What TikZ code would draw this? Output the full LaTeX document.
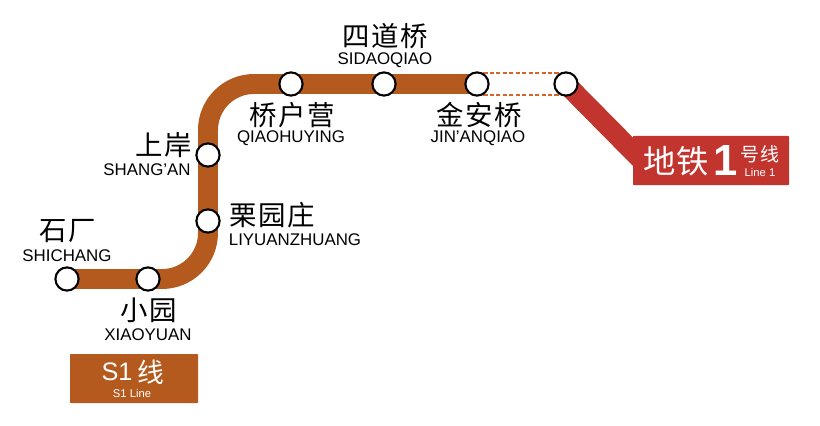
\documentclass[tikz,border=0pt]{standalone}
\usepackage{fontspec}
\setmainfont{Liberation Sans}
\newfontfamily\cjkfont[LetterSpace=5]{Noto Sans CJK SC}
\newfontfamily\cjkplain{Noto Sans CJK SC}
\usetikzlibrary{backgrounds}
\definecolor{sonebrown}{HTML}{B55A1F}
\definecolor{lineonered}{HTML}{C2352F}
\definecolor{linkorange}{HTML}{D9642B}
\tikzset{
    station/.style={circle, draw=black, line width=1.5pt, fill=white, minimum size=0.58cm, inner sep=0pt},
    cnname/.style={inner sep=0pt, font=\fontsize{19.5}{20}\cjkfont},
    enname/.style={inner sep=0pt, font=\fontsize{12}{12}\selectfont},
    linebox/.style={fill=#1, rounded corners=0.5pt, inner sep=0pt},
    track/.style={line width=14.2pt, color=#1},
    boxtext/.style={inner sep=0pt, text=white},
    transferlink/.style={linkorange, line width=1pt, dash pattern=on 3pt off 1.6pt},
}
\begin{document}
\begin{tikzpicture}[x=0.025cm, y=-0.025cm]
    \useasboundingbox (0,0) rectangle (820,426);
    % stations
    \node[station] (shichang) at (67,279) {};
    \node[station] (xiaoyuan) at (148,279) {};
    \node[station] (liyuanzhuang) at (208,221) {};
    \node[station] (shangan) at (208,155) {};
    \node[station] (qiaohuying) at (291,84) {};
    \node[station] (sidaoqiao) at (384,84) {};
    \node[station] (jinanqiao) at (477,84) {};
    \node[station] (transfer) at (566,84) {};
    \coordinate (cornerlow) at (208,279);
    \coordinate (cornerhigh) at (208,84);
    \coordinate (lineoneend) at (650,169);
    % names
    \node[cnname] (shichangcn) at (68,231) {石厂};
    \node[enname] (shichangen) at (67,256) {SHICHANG};
    \node[cnname] (xiaoyuancn) at (149,310) {小园};
    \node[enname] (xiaoyuanen) at (148,335) {XIAOYUAN};
    \node[cnname] (shangancn) at (164,145) {上岸};
    \node[enname] (shanganen) at (147,170) {SHANG'AN};
    \node[cnname] (liyuanzhuangcn) at (272,215) {栗园庄};
    \node[enname] (liyuanzhuangen) at (295,240) {LIYUANZHUANG};
    \node[cnname] (qiaohuyingcn) at (292,115) {桥户营};
    \node[enname] (qiaohuyingen) at (291,138) {QIAOHUYING};
    \node[cnname] (sidaoqiaocn) at (385,36) {四道桥};
    \node[enname] (sidaoqiaoen) at (385,60) {SIDAOQIAO};
    \node[cnname] (jinanqiaocn) at (479,115) {金安桥};
    \node[enname] (jinanqiaoen) at (478,138) {JIN'ANQIAO};
    % line boxes
    \node[linebox=sonebrown, minimum width=128*0.025cm, minimum height=49*0.025cm] (soneline) at (134,378.5) {};
    \node[boxtext, font=\fontsize{18}{18}\selectfont] (sonetext) at (117,372) {S1};
    \node[boxtext, font=\fontsize{19}{19}\cjkplain] (sonecn) at (151,372) {线};
    \node[boxtext, font=\fontsize{8}{8}\selectfont] (soneen) at (132,393) {S1 Line};
    \node[linebox=lineonered, minimum width=156*0.025cm, minimum height=49*0.025cm] (lineone) at (711,160.5) {};
    \node[boxtext, font=\fontsize{23}{23}\cjkplain] (lineonecn) at (676,161) {地铁};
    \node[boxtext, font=\fontsize{31}{31}\bfseries] (lineonenum) at (726,161) {1};
    \node[boxtext, font=\fontsize{13.5}{13.5}\cjkfont] (lineonehao) at (760,154) {号线};
    \node[boxtext, font=\fontsize{8}{8}\selectfont] (lineoneen) at (760,172) {Line 1};
    % tracks
    \begin{scope}[on background layer]
        \draw[track=sonebrown, rounded corners=1.15cm] (shichang.center) -- (cornerlow) -- (cornerhigh) -- (jinanqiao.center);
        \draw[track=lineonered] (transfer.center) -- (lineoneend);
        \draw[transferlink] (jinanqiao.60) -- (transfer.120);
        \draw[transferlink] (jinanqiao.-60) -- (transfer.-120);
    \end{scope}
\end{tikzpicture}
\end{document}
